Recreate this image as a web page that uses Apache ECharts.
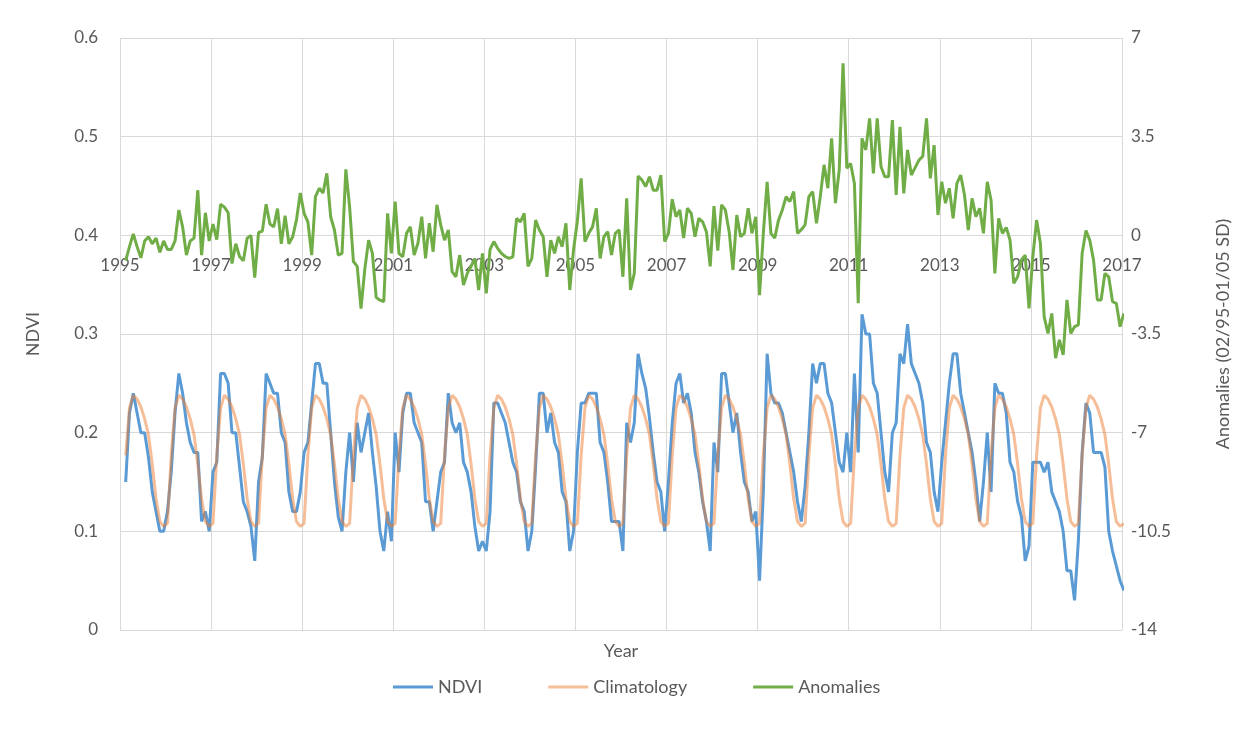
<!DOCTYPE html>
<html>
<head>
<meta charset="utf-8">
<script src="https://cdn.jsdelivr.net/npm/echarts@6/dist/echarts.min.js"></script>
<style>
  html, body { margin: 0; padding: 0; background: #fff; }
  #chart { width: 1252px; height: 729px; }
</style>
</head>
<body>
<div id="chart"></div>
<script>
// monthly series, February 1995 .. January 2017
const startYear = 1995
const startMonth = 2

const ndvi = [
  0.15, 0.22, 0.24, 0.22, 0.20, 0.20, 0.175, 0.14, 0.12, 0.10, 0.10, 0.12,
  0.16, 0.22, 0.26, 0.24, 0.21, 0.19, 0.18, 0.18, 0.11, 0.12, 0.10, 0.16,
  0.17, 0.26, 0.26, 0.25, 0.20, 0.20, 0.165, 0.13, 0.12, 0.105, 0.07, 0.15,
  0.175, 0.26, 0.25, 0.24, 0.24, 0.20, 0.19, 0.14, 0.12, 0.12, 0.14, 0.18,
  0.19, 0.23, 0.27, 0.27, 0.25, 0.25, 0.20, 0.15, 0.115, 0.10, 0.16, 0.20,
  0.15, 0.21, 0.18, 0.20, 0.22, 0.18, 0.145, 0.10, 0.08, 0.12, 0.09, 0.20,
  0.16, 0.22, 0.24, 0.24, 0.21, 0.20, 0.19, 0.13, 0.13, 0.10, 0.13, 0.16,
  0.17, 0.24, 0.21, 0.20, 0.21, 0.17, 0.16, 0.14, 0.105, 0.08, 0.09, 0.08,
  0.12, 0.23, 0.23, 0.22, 0.21, 0.19, 0.17, 0.16, 0.13, 0.12, 0.08, 0.10,
  0.165, 0.24, 0.24, 0.20, 0.22, 0.19, 0.18, 0.14, 0.13, 0.08, 0.10, 0.18,
  0.23, 0.23, 0.24, 0.24, 0.24, 0.19, 0.18, 0.15, 0.11, 0.11, 0.11, 0.08,
  0.21, 0.19, 0.21, 0.28, 0.26, 0.245, 0.215, 0.18, 0.15, 0.14, 0.10, 0.15,
  0.21, 0.25, 0.26, 0.23, 0.24, 0.22, 0.18, 0.16, 0.13, 0.11, 0.08, 0.19,
  0.16, 0.26, 0.26, 0.23, 0.20, 0.22, 0.18, 0.15, 0.14, 0.11, 0.12, 0.05,
  0.14, 0.28, 0.24, 0.23, 0.23, 0.22, 0.20, 0.18, 0.16, 0.13, 0.11, 0.145,
  0.20, 0.27, 0.25, 0.27, 0.27, 0.24, 0.23, 0.20, 0.17, 0.16, 0.20, 0.16,
  0.26, 0.18, 0.32, 0.30, 0.30, 0.25, 0.24, 0.20, 0.16, 0.14, 0.20, 0.21,
  0.28, 0.27, 0.31, 0.27, 0.26, 0.25, 0.23, 0.19, 0.18, 0.14, 0.12, 0.17,
  0.21, 0.25, 0.28, 0.28, 0.24, 0.22, 0.20, 0.18, 0.15, 0.11, 0.15, 0.20,
  0.14, 0.25, 0.24, 0.24, 0.22, 0.17, 0.16, 0.13, 0.115, 0.07, 0.085, 0.17,
  0.17, 0.17, 0.16, 0.17, 0.14, 0.13, 0.12, 0.10, 0.06, 0.06, 0.03, 0.09,
  0.18, 0.23, 0.22, 0.18, 0.18, 0.18, 0.165, 0.10, 0.08, 0.065, 0.05, 0.04
]

// Jan .. Dec
const climatologyByMonth = [0.108, 0.177, 0.225, 0.238, 0.234, 0.226, 0.214, 0.198, 0.168, 0.133, 0.110, 0.105]

const anomalies = [
  -0.9, -0.4, 0.05, -0.4, -0.8, -0.2, -0.05, -0.3, -0.1, -0.6, -0.2, -0.5,
  -0.5, -0.2, 0.9, 0.3, -0.7, -0.2, -0.1, 1.6, -0.7, 0.8, -0.2, 0.4,
  -0.15, 1.1, 1.0, 0.8, -1.0, -0.3, -0.75, -0.9, -0.1, 0.0, -1.5, 0.1,
  0.15, 1.1, 0.4, 0.3, 0.95, -0.3, 0.7, -0.3, -0.05, 0.55, 1.5, 0.78,
  0.48, -0.7, 1.37, 1.67, 1.5, 2.2, 0.66, 0.19, -0.7, -0.64, 2.34, 1.0,
  -0.93, -1.1, -2.6, -1.2, -0.17, -0.64, -2.2, -2.3, -2.35, 0.78, -0.64, 1.2,
  -0.64, -0.76, 0.07, 0.3, -0.7, -0.28, 0.66, -0.82, 0.43, -0.58, 1.08, 0.37,
  -0.17, 0.19, -1.29, -1.47, -0.7, -1.76, -1.35, -1.1, -0.82, -1.94, -0.64, -2.06,
  -0.5, -0.22, -0.46, -0.64, -0.75, -0.82, -0.76, 0.6, 0.48, 0.78, -1.1, -0.82,
  0.54, 0.19, -0.05, -1.47, -0.17, -0.64, -0.05, -0.4, 0.43, -1.94, -0.5, 0.5,
  2.02, -0.22, 0.07, 0.3, 0.96, -0.82, -0.05, 0.13, -0.7, 0.07, 0.19, -1.47,
  1.31, -1.94, -1.35, 2.1, 1.96, 1.73, 2.08, 1.6, 1.6, 2.14, -0.22, 0.07,
  1.28, 0.66, 0.9, -0.1, 0.96, 0.78, -0.05, 0.6, 0.48, 0.13, -1.1, 1.04,
  -0.54, 1.08, 0.9, 0.13, -1.23, 0.72, -0.05, 0.07, 0.96, 0.07, 0.66, -2.12,
  0.07, 1.9, 0.07, -0.1, 0.54, 0.9, 1.37, 1.2, 1.55, 0.07, 0.2, 0.37,
  1.37, 1.55, 0.43, 1.37, 2.5, 1.67, 3.44, 1.14, 2.32, 6.1, 2.38, 2.55,
  1.84, -2.41, 3.44, 3.03, 4.15, 2.2, 4.15, 2.44, 2.08, 2.08, 4.09, 1.43,
  3.85, 1.49, 3.03, 2.14, 2.4, 2.67, 2.8, 4.15, 2.02, 3.2, 0.72, 1.9,
  1.14, 1.67, 0.6, 1.84, 2.14, 1.43, 0.19, 1.31, 0.66, 0.96, 0.07, 1.9,
  1.25, -1.35, 0.6, 0.07, 0.28, -0.17, -1.7, -1.47, -0.87, -0.7, -2.59, -0.76,
  0.54, -0.28, -2.89, -3.48, -2.77, -4.36, -3.71, -4.24, -2.29, -3.48, -3.24, -3.18,
  -0.64, 0.17, -0.17, -0.87, -2.29, -2.29, -1.35, -1.47, -2.35, -2.41, -3.24, -2.77
]

const seriesNames = ['NDVI', 'Climatology', 'Anomalies']
const colors = ['#5B9BD5', 'rgba(237,125,49,0.5)', '#70AD47']
const textColor = '#595959'
const gridColor = '#D9D9D9'
const fontFamily = 'Lato, "Open Sans", sans-serif'

const anomMin = -14
const anomMax = 7
const plotTop = 38
const plotBottom = 99
const plotHeight = 729 - plotTop - plotBottom

// month index -> decimal year at the middle of that month
function monthX(i) {
  return startYear + (startMonth - 1 + i + 0.5) / 12
}
function calMonth(i) {
  return (startMonth - 1 + i) % 12
}

const ndviData = ndvi.map((v, i) => [monthX(i), v])
const climData = ndvi.map((v, i) => [monthX(i), climatologyByMonth[calMonth(i)]])
const anomData = anomalies.map((v, i) => [monthX(i), v])

// the year axis crosses the anomaly axis at 0, as in the Excel original
const yearAxisOffset = -plotHeight * (0 - anomMin) / (anomMax - anomMin)

const chart = echarts.init(document.getElementById('chart'))

const option = {
  animation: false,
  backgroundColor: '#fff',
  textStyle: { fontFamily: fontFamily },
  grid: { left: 120, right: 130, top: plotTop, bottom: plotBottom },
  legend: {
    bottom: 28,
    left: 388,
    icon: 'rect',
    itemWidth: 40,
    itemHeight: 3,
    itemGap: 66,
    textStyle: { color: textColor, fontSize: 18, fontFamily: fontFamily },
    data: seriesNames
  },
  graphic: [
    {
      type: 'text',
      x: 621,
      y: 651,
      style: {
        text: 'Year',
        fill: textColor,
        font: '18px ' + fontFamily,
        align: 'center',
        verticalAlign: 'middle'
      }
    }
  ],
  xAxis: {
    type: 'value',
    min: 1995,
    max: 2017,
    interval: 2,
    position: 'bottom',
    offset: yearAxisOffset,
    axisLine: { onZero: false, lineStyle: { color: gridColor } },
    axisTick: { show: false },
    axisLabel: {
      color: textColor, fontSize: 17, margin: 22, fontFamily: fontFamily,
      formatter: v => String(v)
    },
    splitLine: { show: true, lineStyle: { color: gridColor } }
  },
  yAxis: [
    {
      type: 'value',
      min: 0,
      max: 0.6,
      interval: 0.1,
      axisLine: { show: false },
      axisTick: { show: false },
      axisLabel: {
        color: textColor, fontSize: 17, margin: 22, fontFamily: fontFamily,
        formatter: v => (v === 0 ? '0' : v.toFixed(1))
      },
      splitLine: { show: true, lineStyle: { color: gridColor } },
      name: 'NDVI',
      nameLocation: 'middle',
      nameRotate: 90,
      nameGap: 78,
      nameTextStyle: { color: textColor, fontSize: 18, fontFamily: fontFamily }
    },
    {
      type: 'value',
      position: 'right',
      min: anomMin,
      max: anomMax,
      interval: 3.5,
      axisLine: { show: false },
      axisTick: { show: false },
      axisLabel: { color: textColor, fontSize: 17, margin: 9, fontFamily: fontFamily },
      splitLine: { show: false },
      name: 'Anomalies (02/95-01/05 SD)',
      nameLocation: 'middle',
      nameRotate: 90,
      nameGap: 92,
      nameTextStyle: { color: textColor, fontSize: 18, fontFamily: fontFamily }
    }
  ],
  series: [
    {
      name: seriesNames[0],
      type: 'line',
      yAxisIndex: 0,
      data: ndviData,
      showSymbol: false,
      lineStyle: { color: colors[0], width: 3 },
      itemStyle: { color: colors[0] }
    },
    {
      name: seriesNames[1],
      type: 'line',
      yAxisIndex: 0,
      data: climData,
      showSymbol: false,
      lineStyle: { color: colors[1], width: 3 },
      itemStyle: { color: colors[1] }
    },
    {
      name: seriesNames[2],
      type: 'line',
      yAxisIndex: 1,
      data: anomData,
      showSymbol: false,
      lineStyle: { color: colors[2], width: 3 },
      itemStyle: { color: colors[2] }
    }
  ]
}

chart.setOption(option)
</script>
</body>
</html>
